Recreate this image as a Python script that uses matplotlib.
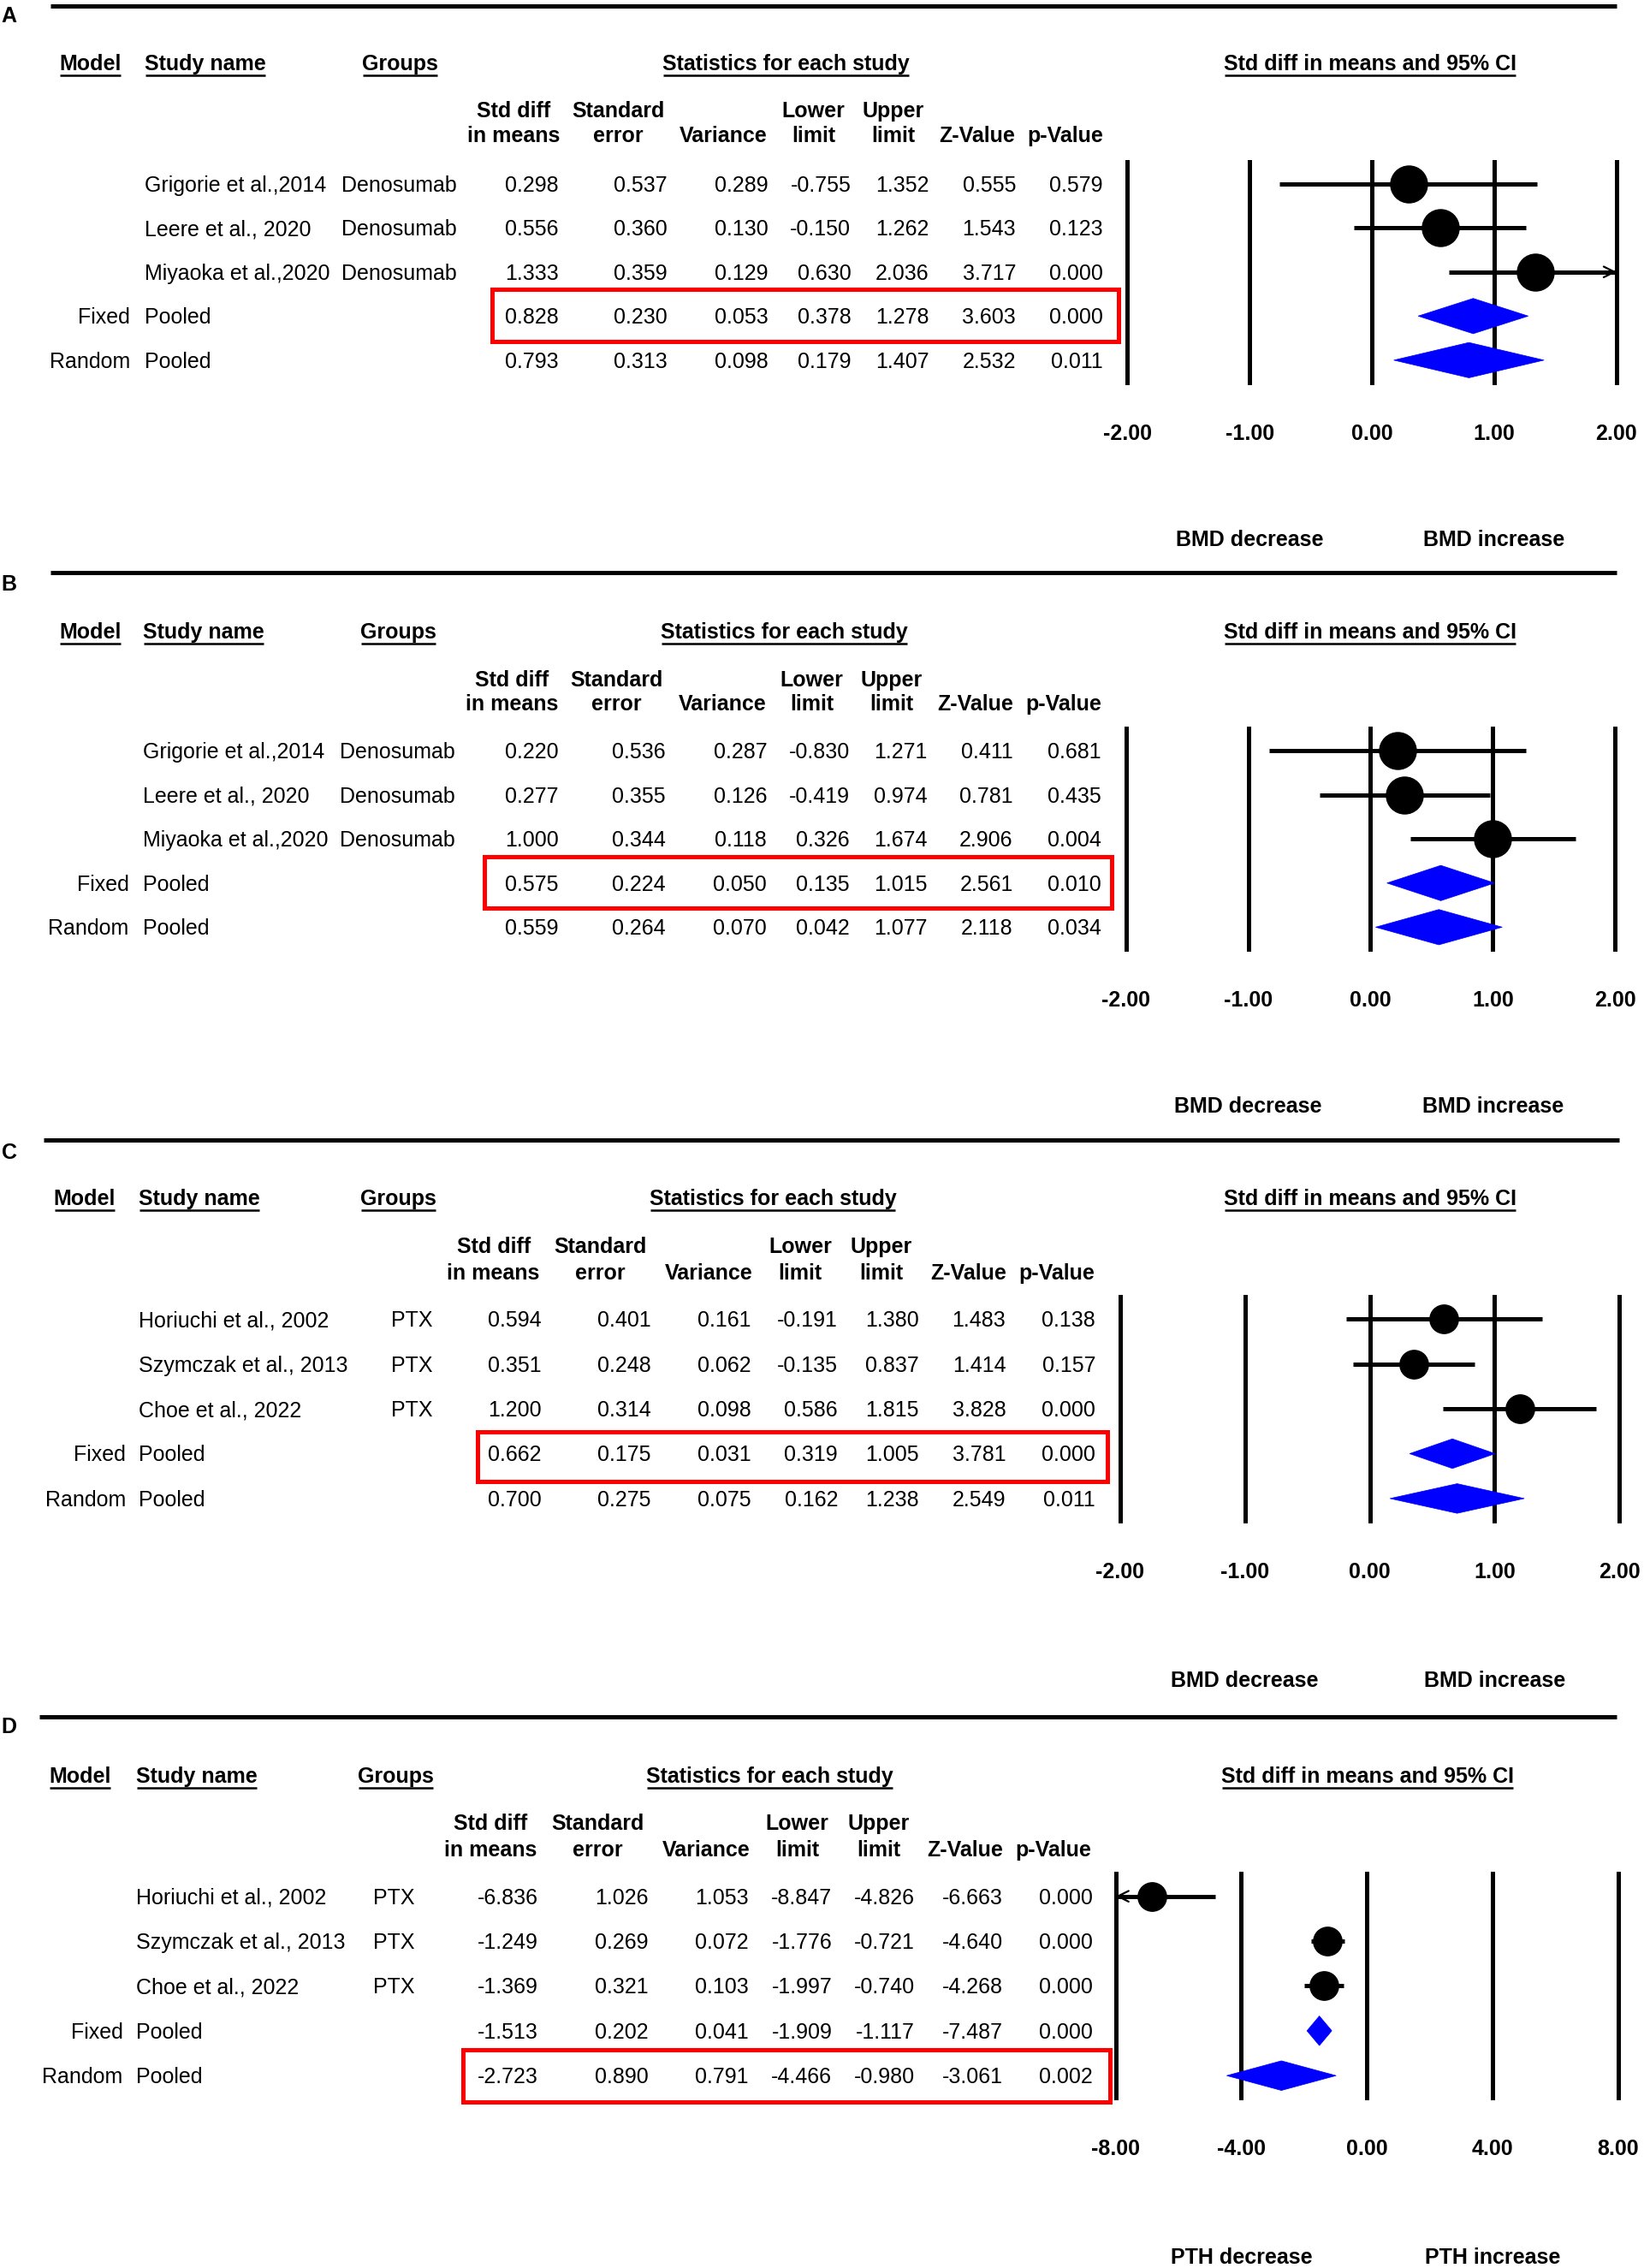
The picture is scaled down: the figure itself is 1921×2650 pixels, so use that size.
import matplotlib
matplotlib.use("Agg")
import matplotlib.pyplot as plt
from matplotlib.patches import Rectangle, Polygon
from matplotlib.transforms import blended_transform_factory

plt.rcParams['font.family'] = ['Liberation Sans', 'DejaVu Sans']

# ---------------- data ----------------
model_labels = ["", "", "", "Fixed", "Random"]
col_heads = [("Std diff", "in means"), ("Standard", "error"), ("", "Variance"),
             ("Lower", "limit"), ("Upper", "limit"), ("", "Z-Value"), ("", "p-Value")]

A_study = ["Grigorie et al.,2014", "Leere et al., 2020", "Miyaoka et al.,2020", "Pooled", "Pooled"]
A_group = ["Denosumab", "Denosumab", "Denosumab", "", ""]
A_est = [0.298, 0.556, 1.333, 0.828, 0.793]
A_se = [0.537, 0.360, 0.359, 0.230, 0.313]
A_var = [0.289, 0.130, 0.129, 0.053, 0.098]
A_low = [-0.755, -0.150, 0.630, 0.378, 0.179]
A_up = [1.352, 1.262, 2.036, 1.278, 1.407]
A_z = [0.555, 1.543, 3.717, 3.603, 2.532]
A_p = [0.579, 0.123, 0.000, 0.000, 0.011]

B_study = ["Grigorie et al.,2014", "Leere et al., 2020", "Miyaoka et al.,2020", "Pooled", "Pooled"]
B_group = ["Denosumab", "Denosumab", "Denosumab", "", ""]
B_est = [0.220, 0.277, 1.000, 0.575, 0.559]
B_se = [0.536, 0.355, 0.344, 0.224, 0.264]
B_var = [0.287, 0.126, 0.118, 0.050, 0.070]
B_low = [-0.830, -0.419, 0.326, 0.135, 0.042]
B_up = [1.271, 0.974, 1.674, 1.015, 1.077]
B_z = [0.411, 0.781, 2.906, 2.561, 2.118]
B_p = [0.681, 0.435, 0.004, 0.010, 0.034]

C_study = ["Horiuchi et al., 2002", "Szymczak et al., 2013", "Choe et al., 2022", "Pooled", "Pooled"]
C_group = ["PTX", "PTX", "PTX", "", ""]
C_est = [0.594, 0.351, 1.200, 0.662, 0.700]
C_se = [0.401, 0.248, 0.314, 0.175, 0.275]
C_var = [0.161, 0.062, 0.098, 0.031, 0.075]
C_low = [-0.191, -0.135, 0.586, 0.319, 0.162]
C_up = [1.380, 0.837, 1.815, 1.005, 1.238]
C_z = [1.483, 1.414, 3.828, 3.781, 2.549]
C_p = [0.138, 0.157, 0.000, 0.000, 0.011]

D_study = ["Horiuchi et al., 2002", "Szymczak et al., 2013", "Choe et al., 2022", "Pooled", "Pooled"]
D_group = ["PTX", "PTX", "PTX", "", ""]
D_est = [-6.836, -1.249, -1.369, -1.513, -2.723]
D_se = [1.026, 0.269, 0.321, 0.202, 0.890]
D_var = [1.053, 0.072, 0.103, 0.041, 0.791]
D_low = [-8.847, -1.776, -1.997, -1.909, -4.466]
D_up = [-4.826, -0.721, -0.740, -1.117, -0.980]
D_z = [-6.663, -4.640, -4.268, -7.487, -3.061]
D_p = [0.000, 0.000, 0.000, 0.000, 0.002]

bmd_ticks = [-2, -1, 0, 1, 2]
pth_ticks = [-8, -4, 0, 4, 8]

# ---------------- layout (reference pixel grid, 1136 x 1568) ----------------
W, H = 1136.0, 1568.0
FS = 18
LW = 3.6

panels = [
    dict(tag="A", study=A_study, group=A_group,
         cols=[A_est, A_se, A_var, A_low, A_up, A_z, A_p],
         ticks=bmd_ticks, dirs=("BMD decrease", "BMD increase"),
         line_y=4, line_x=(35, 1117), tag_y=10, head_y=43, sub_y=(76, 93),
         row0=127, step=30.5, tick_y=298, dir_y=372,
         model_r=90, study_l=100, group_l=236,
         head_x=(41, 100, 250), stats_c=543, ci_c=947,
         colhead_c=[355, 427, 500, 562, 617, 675, 736],
         val_r=[386, 461, 531, 588, 642, 702, 762],
         fx=(779, 1117), box=(340, 200, 773, 236), ms=31, dh=0.40),
    dict(tag="B", study=B_study, group=B_group,
         cols=[B_est, B_se, B_var, B_low, B_up, B_z, B_p],
         ticks=bmd_ticks, dirs=("BMD decrease", "BMD increase"),
         line_y=396, line_x=(35, 1117), tag_y=403, head_y=436, sub_y=(469, 486),
         row0=519, step=30.5, tick_y=690, dir_y=764,
         model_r=89, study_l=99, group_l=235,
         head_x=(41, 99, 249), stats_c=542, ci_c=947,
         colhead_c=[354, 426, 499, 561, 616, 674, 735],
         val_r=[386, 460, 530, 587, 641, 700, 761],
         fx=(778, 1116), box=(335, 592, 768, 628), ms=31, dh=0.40),
    dict(tag="C", study=C_study, group=C_group,
         cols=[C_est, C_se, C_var, C_low, C_up, C_z, C_p],
         ticks=bmd_ticks, dirs=("BMD decrease", "BMD increase"),
         line_y=788, line_x=(30, 1119), tag_y=796, head_y=828, sub_y=(861, 879),
         row0=912, step=31, tick_y=1087, dir_y=1161,
         model_r=87, study_l=96, group_l=270,
         head_x=(37, 96, 249), stats_c=534, ci_c=947,
         colhead_c=[341, 415, 490, 553, 609, 669, 730],
         val_r=[374, 450, 519, 579, 635, 695, 757],
         fx=(774, 1119), box=(330, 990, 765, 1024), ms=24, dh=0.33),
    dict(tag="D", study=D_study, group=D_group,
         cols=[D_est, D_se, D_var, D_low, D_up, D_z, D_p],
         ticks=pth_ticks, dirs=("PTH decrease", "PTH increase"),
         line_y=1187, line_x=(27, 1117), tag_y=1193, head_y=1227, sub_y=(1260, 1278),
         row0=1311, step=31, tick_y=1485, dir_y=1560,
         model_r=85, study_l=94, group_l=258,
         head_x=(34, 94, 247), stats_c=532, ci_c=945,
         colhead_c=[339, 413, 488, 551, 607, 667, 728],
         val_r=[372, 448, 517, 575, 632, 693, 755],
         fx=(771, 1118), box=(320, 1417, 767, 1453), ms=24, dh=0.33),
]

fig = plt.figure(figsize=(19.21, 26.50), dpi=100)
bg = fig.add_axes([0, 0, 1, 1])
bg.set_xlim(0, W)
bg.set_ylim(H, 0)
bg.axis('off')

BASE = 5.3  # half cap height in grid units, to centre digits on a row
underlined = []


def txt(x, y, s, ha='left', bold=False, ax=bg, transform=None, **kw):
    return ax.text(x, y + BASE, s, ha=ha, va='baseline', fontsize=FS,
                   fontweight='bold' if bold else 'normal', color='black',
                   transform=transform if transform is not None else ax.transData, **kw)


for p in panels:
    # panel rule and tag
    bg.plot(p['line_x'], [p['line_y'], p['line_y']], color='black', lw=LW, solid_capstyle='butt')
    txt(1, p['tag_y'], p['tag'], bold=True)

    # group headers
    hy = p['head_y']
    underlined.append(txt(p['head_x'][0], hy, "Model", bold=True))
    underlined.append(txt(p['head_x'][1], hy, "Study name", bold=True))
    underlined.append(txt(p['head_x'][2], hy, "Groups", bold=True))
    underlined.append(txt(p['stats_c'], hy, "Statistics for each study", ha='center', bold=True))
    underlined.append(txt(p['ci_c'], hy, "Std diff in means and 95% CI", ha='center', bold=True))

    for (l1, l2), cx in zip(col_heads, p['colhead_c']):
        if l1:
            txt(cx, p['sub_y'][0], l1, ha='center', bold=True)
        txt(cx, p['sub_y'][1], l2, ha='center', bold=True)

    rows = [p['row0'] + i * p['step'] for i in range(5)]
    for i, y in enumerate(rows):
        if model_labels[i]:
            txt(p['model_r'], y, model_labels[i], ha='right')
        txt(p['study_l'], y, p['study'][i])
        if p['group'][i]:
            txt(p['group_l'], y, p['group'][i])
        for col, xr in zip(p['cols'], p['val_r']):
            txt(xr, y, f"{col[i]:.3f}", ha='right')

    x0, y0, x1, y1 = p['box']
    bg.add_patch(Rectangle((x0, y0), x1 - x0, y1 - y0, fill=False, ec='#ff0000', lw=LW))

    # forest plot
    top = rows[0] - p['step'] / 2
    bot = rows[-1] + p['step'] / 2
    ax = fig.add_axes([p['fx'][0] / W, 1 - bot / H, (p['fx'][1] - p['fx'][0]) / W, (bot - top) / H])
    lim = p['ticks'][-1]
    ax.set_xlim(-lim, lim)
    ax.set_ylim(4.5, -0.5)
    for s in ax.spines.values():
        s.set_visible(False)
    ax.set_yticks([])
    ax.set_xticks(p['ticks'], [f"{t:.2f}" for t in p['ticks']])
    ax.tick_params(axis='x', length=0, pad=34.5, labelsize=FS)
    for lab in ax.get_xticklabels():
        lab.set_fontweight('bold')
    ax.patch.set_visible(False)

    for t in p['ticks']:
        ax.axvline(t, color='black', lw=LW, clip_on=False, zorder=1)

    est, low, up = p['cols'][0], p['cols'][3], p['cols'][4]
    for i in range(3):
        lo_c, hi_c = max(low[i], -lim), min(up[i], lim)
        ax.plot([lo_c, hi_c], [i, i], color='black', lw=LW, solid_capstyle='butt',
                clip_on=False, zorder=2)
        if up[i] > lim:
            ax.annotate('', xy=(lim, i), xytext=(lim - 0.05 * lim, i), annotation_clip=False,
                        arrowprops=dict(arrowstyle='->,head_length=0.9,head_width=0.45',
                                        color='black', lw=1.6, shrinkA=0, shrinkB=0))
        if low[i] < -lim:
            ax.annotate('', xy=(-lim, i), xytext=(-lim + 0.05 * lim, i), annotation_clip=False,
                        arrowprops=dict(arrowstyle='->,head_length=0.9,head_width=0.45',
                                        color='black', lw=1.6, shrinkA=0, shrinkB=0))
        ax.plot(est[i], i, 'o', ms=p['ms'], color='black', clip_on=False, zorder=4)
    for i in (3, 4):
        dh = p['dh']
        ax.add_patch(Polygon([(low[i], i), (est[i], i - dh), (up[i], i), (est[i], i + dh)],
                             closed=True, fc='#0000ff', ec='#0000ff', lw=0.5, zorder=3))

    tr = blended_transform_factory(ax.transData, bg.transData)
    txt(-lim / 2, p['dir_y'], p['dirs'][0], ha='center', bold=True, transform=tr)
    txt(lim / 2, p['dir_y'], p['dirs'][1], ha='center', bold=True, transform=tr)

# underline header labels
fig.canvas.draw()
inv = bg.transData.inverted()
for t in underlined:
    bb = t.get_window_extent()
    (ux0, uy), (ux1, _) = inv.transform([(bb.x0 + 1, bb.y0 - 1), (bb.x1 - 1, bb.y0 - 1)])
    bg.plot([ux0, ux1], [uy, uy], color='black', lw=1.8, solid_capstyle='butt')

fig.savefig("out.png", dpi=100)
